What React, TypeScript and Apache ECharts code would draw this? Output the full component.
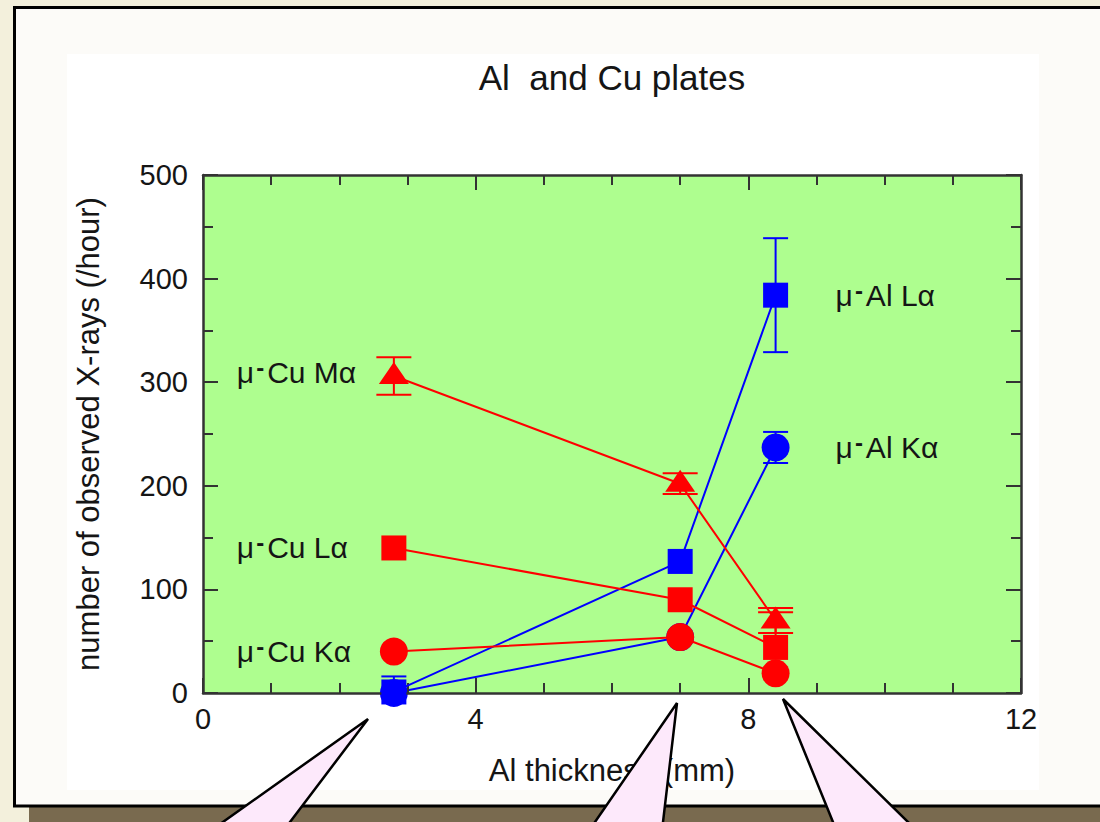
import React, { useEffect, useRef } from "react";
import * as echarts from "echarts";

// Al plate thickness (mm) of the three measurements
const xThick = [2.8, 7.0, 8.4];

// observed X-ray rates (/hour) with upper / lower errors
const cuMa = [306, 202, 70];
const cuMaErrUp = [18, 10, 12];
const cuMaErrDn = [18, 10, 12];
const cuLa = [140, 90, 44];
const cuLaErrUp = [0, 0, 34];
const cuLaErrDn = [0, 0, 0];
const cuKa = [40, 54, 19];
const cuKaErrUp = [0, 0, 0];
const cuKaErrDn = [0, 0, 0];
const alLa = [1, 127, 384];
const alLaErrUp = [15, 0, 55];
const alLaErrDn = [15, 0, 55];
const alKa = [0, 54, 237];
const alKaErrUp = [0, 0, 15];
const alKaErrDn = [0, 0, 15];

const xTicks = [0, 4, 8, 12];
const yTicks = [0, 100, 200, 300, 400, 500];

const FONT = "Liberation Sans, Arial, Helvetica, sans-serif";
const RED = "#ff0000";
const BLUE = "#0000ff";
const TXT = "#151515";

function errSeries(vals: number[], up: number[], dn: number[], color: string, capHalf: number, z: number) {
  return {
    type: "custom",
    xAxisIndex: 0,
    yAxisIndex: 0,
    z,
    silent: true,
    clip: false,
    data: xThick.map((x, i) => [x, vals[i], up[i], dn[i]]),
    renderItem: (params: any, api: any) => {
      const x = api.value(0);
      const y = api.value(1);
      const eu = api.value(2);
      const ed = api.value(3);
      const children: any[] = [];
      if (!(eu > 0) && !(ed > 0)) return { type: "group", children };
      const lo = Math.max(0, y - ed);
      const top = api.coord([x, y + eu]);
      const bot = api.coord([x, lo]);
      const st = { stroke: color, lineWidth: 2 };
      children.push({ type: "line", shape: { x1: top[0], y1: top[1], x2: bot[0], y2: bot[1] }, style: st });
      if (eu > 0) {
        children.push({ type: "line", shape: { x1: top[0] - capHalf, y1: top[1], x2: top[0] + capHalf, y2: top[1] }, style: st });
      }
      if (ed > 0 && y - ed >= 0) {
        children.push({ type: "line", shape: { x1: bot[0] - capHalf, y1: bot[1], x2: bot[0] + capHalf, y2: bot[1] }, style: st });
      }
      return { type: "group", children };
    },
  };
}

function lineSeries(
  name: string,
  vals: number[],
  color: string,
  symbol: string,
  symbolSize: any,
  labelIdx: number,
  labelText: string,
  labelPos: string,
  labelDist: number,
  z: number,
  symbolOffset: any = [0, 0]
) {
  return {
    type: "line",
    name,
    z,
    xAxisIndex: 0,
    yAxisIndex: 0,
    clip: false,
    symbol,
    symbolSize,
    symbolOffset,
    showSymbol: true,
    lineStyle: { color, width: 2 },
    itemStyle: { color },
    data: xThick.map((x, i) => {
      const item: any = { value: [x, vals[i]] };
      if (i === labelIdx) {
        item.label = {
          show: true,
          position: labelPos,
          distance: labelDist,
          align: "left",
          verticalAlign: "middle",
          formatter: labelText,
          rich: {
            a: { fontSize: 30, fontFamily: FONT, color: TXT, lineHeight: 34 },
            s: { fontSize: 24, fontFamily: FONT, fontWeight: "bold", color: TXT, verticalAlign: "top", lineHeight: 6, padding: [0, 3, 0, 2] },
          },
        };
      }
      return item;
    }),
  };
}

export default function App() {
  const ref = useRef<HTMLDivElement>(null);

  useEffect(() => {
    document.body.style.margin = "0";
    const chart = echarts.init(ref.current!, null, { renderer: "svg" });

    const tickStyle = { color: "#333", width: 2 };
    const axisCommon = {
      type: "value",
      z: 5,
      axisLine: { show: true, onZero: false, lineStyle: { color: "#333", width: 2.5 } },
      axisTick: { show: true, inside: true, length: 15, lineStyle: tickStyle },
      splitLine: { show: false },
    };

    const option: any = {
      animation: false,
      backgroundColor: "#f3f0dc",
      title: {
        text: "Al  and Cu plates",
        left: 607,
        top: 55,
        textAlign: "center",
        textStyle: { fontSize: 35, fontWeight: "normal", color: TXT, fontFamily: FONT },
      },
      grid: {
        left: 203,
        top: 175,
        right: 79,
        bottom: 129,
        show: true,
        backgroundColor: "#aefe8f",
        borderWidth: 0,
      },
      graphic: [
        { type: "rect", z: -20, silent: true, shape: { x: 29, y: 22, width: 1100, height: 820 }, style: { fill: "#796a4f" } },
        { type: "rect", z: -19, silent: true, shape: { x: 14.5, y: 7.5, width: 1100, height: 798.5 }, style: { fill: "#fcfbf8", stroke: "#000", lineWidth: 3 } },
        { type: "rect", z: -18, silent: true, shape: { x: 67, y: 54, width: 972, height: 736 }, style: { fill: "#ffffff" } },
        { type: "polygon", z: 100, silent: true, shape: { points: [[368, 719], [197.6, 840], [276.4, 840]] }, style: { fill: "#fde9fb", stroke: "#000", lineWidth: 2.5 } },
        { type: "polygon", z: 100, silent: true, shape: { points: [[677, 703], [582.6, 840], [660.9, 840]] }, style: { fill: "#fde9fb", stroke: "#000", lineWidth: 2.5 } },
        { type: "polygon", z: 100, silent: true, shape: { points: [[783, 699], [840.3, 840], [926.3, 840]] }, style: { fill: "#fde9fb", stroke: "#000", lineWidth: 2.5 } },
      ],
      xAxis: [
        {
          ...axisCommon,
          position: "bottom",
          min: xTicks[0],
          max: xTicks[xTicks.length - 1],
          interval: 4,
          minorTick: { show: true, splitNumber: 4, length: 10, lineStyle: tickStyle },
          axisLabel: { show: true, fontSize: 29, fontFamily: FONT, color: TXT, margin: 11 },
          name: "Al thickness (mm)",
          nameLocation: "middle",
          nameGap: 62,
          nameTextStyle: { fontSize: 31, fontFamily: FONT, color: TXT },
        },
        {
          ...axisCommon,
          position: "top",
          min: xTicks[0],
          max: xTicks[xTicks.length - 1],
          interval: 4,
          minorTick: { show: true, splitNumber: 4, length: 10, lineStyle: tickStyle },
          axisLabel: { show: false },
        },
      ],
      yAxis: [
        {
          ...axisCommon,
          position: "left",
          min: yTicks[0],
          max: yTicks[yTicks.length - 1],
          interval: 100,
          minorTick: { show: true, splitNumber: 2, length: 10, lineStyle: tickStyle },
          axisLabel: { show: true, fontSize: 29, fontFamily: FONT, color: TXT, margin: 15 },
          name: "number of observed X-rays (/hour)",
          nameLocation: "middle",
          nameGap: 99,
          nameTextStyle: { fontSize: 31, fontFamily: FONT, color: TXT },
        },
        {
          ...axisCommon,
          position: "right",
          min: yTicks[0],
          max: yTicks[yTicks.length - 1],
          interval: 100,
          minorTick: { show: true, splitNumber: 2, length: 10, lineStyle: tickStyle },
          axisLabel: { show: false },
        },
      ],
      series: [
        errSeries(alKa, alKaErrUp, alKaErrDn, BLUE, 12.5, 3),
        errSeries(alLa, alLaErrUp, alLaErrDn, BLUE, 12.5, 3),
        lineSeries("Al Ka", alKa, BLUE, "circle", 28, 2, "{a|μ}{s|-}{a|Al Kα}", "right", 46, 4),
        lineSeries("Al La", alLa, BLUE, "rect", 25, 2, "{a|μ}{s|-}{a|Al Lα}", "right", 47.5, 5),
        errSeries(cuKa, cuKaErrUp, cuKaErrDn, RED, 17.5, 6),
        errSeries(cuLa, cuLaErrUp, cuLaErrDn, RED, 17.5, 6),
        errSeries(cuMa, cuMaErrUp, cuMaErrDn, RED, 17.5, 6),
        lineSeries("Cu Ka", cuKa, RED, "circle", 28, 0, "{a|μ}{s|-}{a|Cu Kα}", "left", 143, 7),
        lineSeries("Cu La", cuLa, RED, "rect", 25, 0, "{a|μ}{s|-}{a|Cu Lα}", "left", 144.5, 8),
        lineSeries("Cu Ma", cuMa, RED, "triangle", [30, 22], 0, "{a|μ}{s|-}{a|Cu Mα}", "left", 142, 9, [0, -3]),
      ],
    };

    chart.setOption(option);
    return () => chart.dispose();
  }, []);

  return (
    <div
      ref={ref}
      style={{ position: "fixed", left: 0, top: 0, width: 1100, height: 822 }}
    />
  );
}
